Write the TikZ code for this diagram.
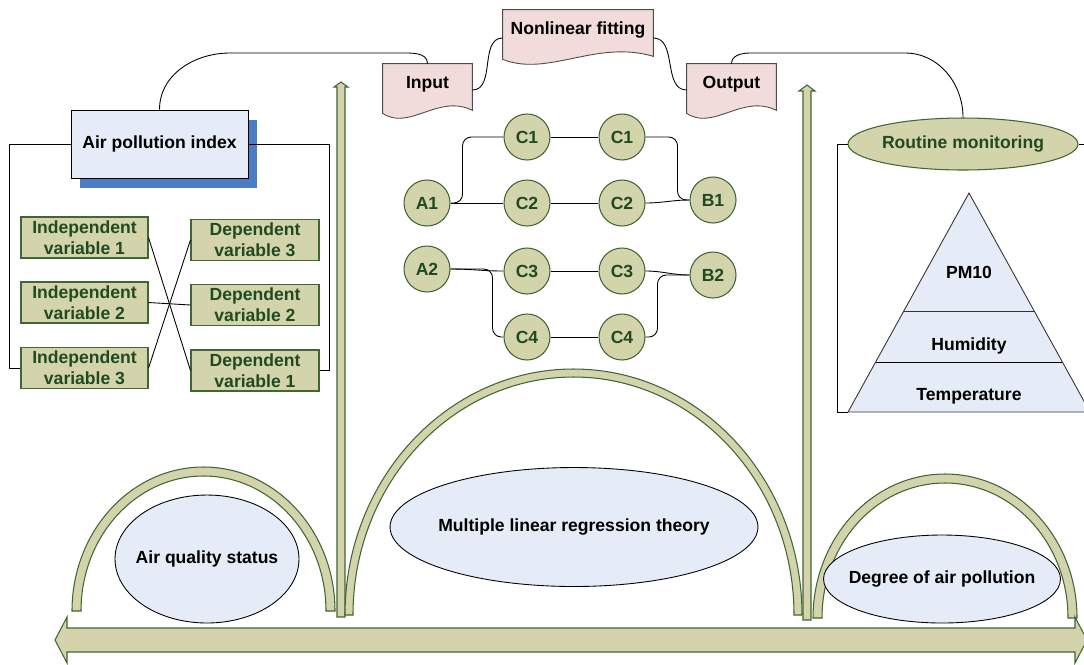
\documentclass[tikz,border=0pt]{standalone}
\usepackage{fontspec}
\setmainfont{Liberation Sans}
\usetikzlibrary{shapes.geometric,calc,shadows,backgrounds}
\definecolor{khaki}{HTML}{D3D4AB}
\definecolor{leaf}{HTML}{3E6636}
\definecolor{leaftext}{HTML}{1F4A22}
\definecolor{paleblue}{HTML}{E6ECF7}
\definecolor{shadowblue}{HTML}{4A7DC3}
\definecolor{palepink}{HTML}{F2DCDB}

\begin{document}
\begin{tikzpicture}[x=0.02cm, y=-0.02cm,
    font=\fontsize{10}{12}\selectfont\bfseries,
    link/.style={draw=black, line width=0.5pt},
    varbox/.style={rectangle, draw=leaf, fill=khaki, text=leaftext, line width=0.6pt,
        align=center, inner sep=0pt, minimum height=0.82cm},
    cnode/.style={circle, draw=leaf, fill=khaki, text=leaftext, line width=0.6pt,
        minimum size=0.92cm, inner sep=0pt},
    docnode/.style={rectangle, minimum height=0.8cm, inner sep=0pt},
    docline/.style={draw=black!70, fill=palepink, line width=0.5pt},
    oval/.style={ellipse, draw=black, fill=paleblue, line width=0.5pt, inner sep=0pt},
    blockarrow/.style={draw=leaf, fill=khaki, line width=0.6pt}]
    \clip (0,0) rectangle (1084,664);

    % Left panel: index and variables
    \node[draw=black, fill=paleblue, minimum width=3.54cm, minimum height=1.36cm,
        drop shadow={shadow xshift=0.18cm, shadow yshift=-0.2cm, fill=shadowblue, opacity=1}]
        (api) at (159.5,144) {Air pollution index};
    \foreach \i/\y in {1/237.5, 2/302.5, 3/368}
        \node[varbox, minimum width=2.54cm] (iv\i) at (84.5,\y) {Independent\\variable \i};
    \foreach \i/\y in {3/240, 2/305, 1/370.5}
        \node[varbox, minimum width=2.56cm] (dv\i) at (255,\y) {Dependent\\variable \i};
    \draw[link] (api.west) -- ++(-61,0) |- (iv3.west);
    \draw[link] (api.east) -- ++(81,0) |- (dv1.east);
    \draw[link] (iv1.east) -- (dv1.west);
    \draw[link] (iv2.east) -- (dv2.west);
    \draw[link] (iv3.east) -- (dv3.west);

    % Input, fitting, output
    \node[docnode, minimum width=1.78cm] (inp) at (427.5,84) {Input};
    \node[docnode, minimum width=3cm] (nlf) at (578,30) {Nonlinear fitting};
    \node[docnode, minimum width=1.78cm] (outp) at (731.5,84) {Output};
    \begin{scope}[on background layer]
        \foreach \n in {inp,nlf,outp}
            \draw[docline] (\n.north west) -- (\n.north east) -- ($(\n.south east)+(0,6)$)
                .. controls ($(\n.south west)!0.62!(\n.south east)+(0,-11)$)
                and ($(\n.south west)!0.3!(\n.south east)+(0,27)$) .. ($(\n.south west)+(0,9)$) -- cycle;
    \end{scope}
    \draw[link] (api.north) to[out=90,in=180] (230,53) -- (400,53) to[out=0,in=90] (inp.north);
    \draw[link] ($(inp.east)+(0,6)$) to[out=0,in=180] ($(nlf.west)+(0,8)$);
    \draw[link] ($(nlf.east)+(0,8)$) to[out=0,in=180] ($(outp.west)+(0,6)$);

    % Circles
    \foreach \n/\t/\x/\y in {A1/A1/427/203, A2/A2/427/269, B1/B1/713/200, B2/B2/713/275,
        C1a/C1/527/137, C1b/C1/622/137, C2a/C2/527/203, C2b/C2/622/203,
        C3a/C3/527/271, C3b/C3/622/271, C4a/C4/527/337, C4b/C4/622/337}
        \node[cnode] (\n) at (\x,\y) {\t};
    \draw[link, rounded corners=5pt] (A1.east) -- ++(12,0) |- (C1a.west);
    \draw[link] (A1.east) -- (C2a.west);
    \draw[link, rounded corners=5pt] (C1b.east) -- ++(32,0) |- (B1.west);
    \draw[link] (C2b.east) to[out=0,in=180] (B1.west);
    \draw[link] (A2.east) to[out=0,in=180] (C3a.west);
    \draw[link, rounded corners=5pt] (A2.east) -- ++(42,0) |- (C4a.west);
    \draw[link] (C3b.east) to[out=0,in=180] (B2.west);
    \draw[link, rounded corners=5pt] (C4b.east) -- ++(12,0) |- (B2.west);
    \foreach \a/\b in {C1a/C1b, C2a/C2b, C3a/C3b, C4a/C4b}
        \draw[link] (\a) -- (\b);

    % Right panel: monitoring pyramid
    \node[ellipse, draw=leaf, fill=khaki, text=leaftext, line width=0.6pt, inner sep=0pt,
        minimum width=4.6cm, minimum height=1.04cm] (rm) at (963,144) {\makebox[0pt]{Routine monitoring}};
    \draw[link] (outp.north) to[out=90,in=180] (750,53) -- (905,53) to[out=0,in=90] (rm.north);
    \coordinate (pyrL) at (848,412);
    \coordinate (pyrR) at (1090,412);
    \draw[draw=black!80, fill=paleblue, line width=0.5pt] (969,193) -- (pyrR) -- (pyrL) -- cycle;
    \draw[black!80, line width=0.5pt] (903.8,311) -- (1034.2,311);
    \draw[black, line width=0.5pt] (875.6,362) -- (1062.4,362);
    \node (pm) at (969,272) {PM10};
    \node (hum) at (969,346) {Humidity};
    \node (temp) at (969,396) {Temperature};
    \draw[link] (rm.west) -- ++(-10,0) |- (pyrL);
    \draw[link] (rm.east) -- ++(14,0) |- (pyrR);

    % Vertical arrows
    \draw[blockarrow] (341,82) -- (348,87) -- (345,87) -- (345,617) -- (337,617) -- (337,87) -- (334,87) -- cycle;
    \draw[blockarrow] (807,85) -- (815,91) -- (811,91) -- (811,620) -- (803,620) -- (803,91) -- (799,91) -- cycle;

    % Arches
    \foreach \cx/\rx/\ry/\b/\t in {203.5/131.5/144/611/9, 573.5/228.5/246/615/8, 945/132/144/618/9}
        \draw[blockarrow] ({\cx-\rx},\b) arc[start angle=180, end angle=360, x radius=\rx, y radius=\ry]
            -- ({\cx+\rx-\t},\b) arc[start angle=0, end angle=-180, x radius=\rx-\t, y radius=\ry-\t] -- cycle;

    % Bottom double arrow
    \draw[blockarrow] (55,640) -- (67,617) -- (67,628) -- (1075,628) -- (1075,617) -- (1087,640)
        -- (1075,663) -- (1075,652) -- (67,652) -- (67,663) -- cycle;

    % Theory ovals
    \node[oval, minimum width=3.68cm, minimum height=2.56cm] (aqs) at (207,559) {\makebox[0pt]{Air quality status}};
    \node[oval, minimum width=7.36cm, minimum height=2.38cm] (mlr) at (574,527) {\makebox[0pt]{Multiple linear regression theory}};
    \node[oval, minimum width=4.74cm, minimum height=1.76cm] (dap) at (942,579) {\makebox[0pt]{Degree of air pollution}};
\end{tikzpicture}
\end{document}
